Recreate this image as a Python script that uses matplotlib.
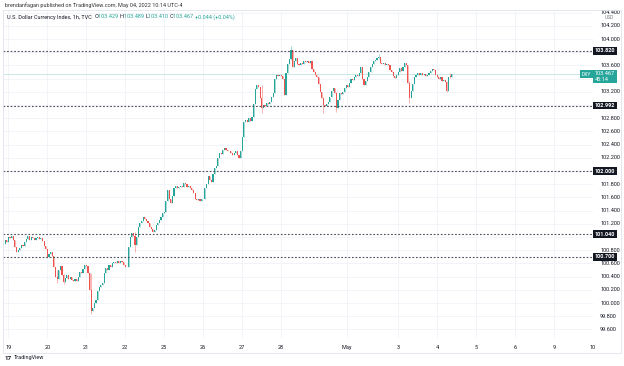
import matplotlib
matplotlib.use("Agg")
import matplotlib.pyplot as plt
from matplotlib.patches import Rectangle
import matplotlib.transforms as mtransforms

plt.rcParams['font.family'] = ['Roboto', 'DejaVu Sans']

# hourly closes, DXY 1h, Apr 18 evening -> May 4 10:00 (bars 0..275)
closes_apr19 = [100.90, 100.95, 100.92, 101.00, 100.98, 101.01, 100.96, 100.85, 100.77, 100.80,
                100.84, 100.88, 100.86, 100.92, 100.97, 101.02, 100.96, 101.00, 100.98, 100.95,
                100.99, 101.00, 100.97, 100.99, 100.94, 100.86, 100.82]
closes_apr20 = [100.70, 100.74, 100.78, 100.72, 100.55, 100.40, 100.36, 100.50, 100.56, 100.42,
                100.32, 100.38, 100.42, 100.36, 100.40, 100.35, 100.33, 100.36, 100.34, 100.40,
                100.47, 100.45, 100.52, 100.58]
closes_apr21 = [100.56, 100.45, 100.20, 99.88, 99.92, 100.00, 100.05, 100.18, 100.24, 100.27,
                100.30, 100.45, 100.53, 100.50, 100.58, 100.55, 100.60, 100.62, 100.60, 100.63,
                100.61, 100.64, 100.62, 100.58]
closes_apr22 = [100.54, 100.55, 100.85, 101.00, 101.06, 101.02, 100.88, 101.00, 101.15, 101.21,
                101.25, 101.30, 101.28, 101.24, 101.22, 101.15, 101.12, 101.08, 101.10, 101.18,
                101.22, 101.26, 101.30, 101.36]
closes_apr25 = [101.38, 101.55, 101.72, 101.58, 101.52, 101.62, 101.74, 101.78, 101.74, 101.76,
                101.78, 101.76, 101.82, 101.80, 101.76, 101.78, 101.75, 101.72, 101.66, 101.58,
                101.56, 101.58, 101.55, 101.57]
closes_apr26 = [101.58, 101.75, 101.80, 101.92, 101.86, 101.84, 101.95, 102.05, 102.08, 102.20,
                102.28, 102.26, 102.32, 102.35, 102.32, 102.30, 102.31, 102.27, 102.24, 102.28,
                102.30, 102.24, 102.20, 102.30]
closes_apr27 = [102.52, 102.75, 102.78, 102.74, 102.80, 102.76, 102.82, 103.02, 103.25, 103.30,
                103.28, 103.10, 102.95, 103.00, 102.98, 103.03, 103.02, 103.05, 103.12, 103.18,
                103.40, 103.45, 103.44, 103.46]
closes_apr28 = [103.44, 103.40, 103.15, 103.48, 103.62, 103.70, 103.83, 103.58, 103.66, 103.71,
                103.62, 103.60, 103.64, 103.62, 103.66, 103.65, 103.66, 103.64, 103.66, 103.55,
                103.50, 103.46, 103.42, 103.32]
closes_apr29 = [103.20, 103.10, 103.00, 102.98, 103.02, 103.05, 103.12, 103.22, 103.26, 103.18,
                102.95, 103.08, 103.18, 103.16, 103.20, 103.26, 103.30, 103.28, 103.34, 103.40,
                103.38, 103.42, 103.45, 103.44]
closes_may02 = [103.48, 103.57, 103.40, 103.30, 103.36, 103.42, 103.50, 103.58, 103.62, 103.66,
                103.68, 103.72, 103.73, 103.64, 103.62, 103.63, 103.61, 103.62, 103.60, 103.53,
                103.50, 103.44, 103.41, 103.46]
closes_may03 = [103.50, 103.56, 103.52, 103.58, 103.64, 103.60, 103.33, 103.10, 103.22, 103.32,
                103.42, 103.45, 103.48, 103.46, 103.48, 103.46, 103.47, 103.44, 103.46, 103.48,
                103.52, 103.55, 103.53, 103.45]
closes_may04 = [103.42, 103.40, 103.42, 103.36, 103.38, 103.35, 103.22, 103.43, 103.429, 103.467]
first_open = 100.88

# visible wick extremes (bar index: high, low)
wick_bars = [33, 37, 54, 81, 159, 177, 197, 205, 231, 250, 273, 275]
wick_high = [100.50, 100.44, 100.46, 101.08, 103.30, 103.90, 103.12, 103.20, 103.77, 103.36, 103.37, 103.489]
wick_low = [100.30, 100.29, 99.83, 100.77, 102.88, 103.68, 102.88, 102.90, 103.70, 103.03, 103.19, 103.410]

levels = [103.820, 102.992, 102.000, 101.040, 100.700]
last_price = 103.467

day_ticks = [3, 27, 51, 75, 99, 123, 147, 171, 211.5, 243, 267, 291, 315, 339, 363]
day_labels = ['19', '20', '21', '22', '25', '26', '27', '28', 'May', '3', '4', '5', '6', '9', '10']
price_ticks = [99.6, 99.8, 100.0, 100.2, 100.4, 100.6, 100.8, 101.0, 101.2, 101.4, 101.6,
               101.8, 102.0, 102.2, 102.4, 102.6, 102.8, 103.0, 103.2, 103.4, 103.6, 103.8,
               104.0, 104.2, 104.4]

closes = (closes_apr19 + closes_apr20 + closes_apr21 + closes_apr22 + closes_apr25 + closes_apr26
          + closes_apr27 + closes_apr28 + closes_apr29 + closes_may02 + closes_may03 + closes_may04)
opens = [first_open] + closes[:-1]
highs = [max(o, c) for o, c in zip(opens, closes)]
lows = [min(o, c) for o, c in zip(opens, closes)]
for b, h, l in zip(wick_bars, wick_high, wick_low):
    highs[b] = max(highs[b], h)
    lows[b] = min(lows[b], l)

UP, DOWN = '#26a69a', '#ef5350'

fig = plt.figure(figsize=(6.24, 3.66), dpi=100)
W, H = 624, 366
ax = fig.add_axes([3 / W, 1 - 338 / H, 590 / W, 328 / H])
ax.set_xlim(-0.3, 362.8)
ax.set_ylim(99.47, 104.44)

# grid
for t in price_ticks:
    ax.axhline(t, color='#f0f3fa', lw=0.6, zorder=0)
for t in day_ticks:
    ax.axvline(t, color='#f0f3fa', lw=0.6, zorder=0)

# candles
xs = list(range(len(closes)))
cols = [UP if c >= o else DOWN for o, c in zip(opens, closes)]
ax.vlines(xs, lows, highs, colors=cols, lw=0.5, alpha=0.6, zorder=2)
bottoms = [min(o, c) for o, c in zip(opens, closes)]
heights = [max(abs(c - o), 0.008) for o, c in zip(opens, closes)]
ax.bar(xs, heights, bottom=bottoms, width=0.7, color=cols, linewidth=0, zorder=3)

# horizontal levels
for lv in levels:
    ax.axhline(lv, color='#50535e', lw=0.8, dashes=(1.6, 1.6), zorder=4)
ax.axhline(last_price, color='#26a69a', lw=0.5, alpha=0.35, zorder=1)

for s in ax.spines.values():
    s.set_visible(False)
ax.set_xticks(day_ticks)
ax.set_xticklabels(day_labels)
ax.set_yticks([])
ax.tick_params(axis='x', length=0, labelsize=4, colors='#131722', pad=5)

trans = mtransforms.blended_transform_factory(ax.transAxes, ax.transData)
# price scale labels, hidden where a level / last price box sits on top
for t in price_ticks:
    if any(abs(t - lv) < 0.099 for lv in levels) or abs(t - (last_price - 0.035)) < 0.12:
        continue
    ax.text(1.012, t, '%.3f' % t, transform=trans, fontsize=4, color='#131722',
            va='center', ha='left', clip_on=False)
for lv in levels:
    ax.text(1.003, lv, '%.3f' % lv, transform=trans, fontsize=4, color='white',
            va='center', ha='left', fontweight='bold', zorder=6,
            bbox=dict(boxstyle='square,pad=0.25', fc='#131722', ec='none'))
ax.text(1.003, last_price - 0.035, '%.3f\n45:14' % last_price, transform=trans, fontsize=4,
        color='white', va='center', ha='left', linespacing=1.1, zorder=6,
        bbox=dict(boxstyle='square,pad=0.3', fc=UP, ec='none'))
ax.text(0.997, last_price, 'DXY', transform=trans, fontsize=3.6, color='white',
        va='center', ha='right', zorder=6,
        bbox=dict(boxstyle='square,pad=0.3', fc=UP, ec='none'))
ax.text(1.02, 104.33, 'USD', transform=trans, fontsize=3.5, color='#787b86',
        va='center', ha='left', clip_on=False)

# frame around chart
fig.patches.append(Rectangle((3 / W, 1 - 353 / H), 618 / W, 343 / H, transform=fig.transFigure,
                             fill=False, ec='#e0e3eb', lw=0.6))

# header / legend line
fig.text(5 / W, 1 - 5 / H, 'brendanfagan published on TradingView.com, May 04, 2022 10:14 UTC-4',
         fontsize=4, color='#333333', va='center', ha='left')

renderer = fig.canvas.get_renderer()
x0 = 7
parts = [('U.S. Dollar Currency Index, 1h, TVC  ', '#131722'), ('O', '#131722'), ('103.429 ', UP),
         ('H', '#131722'), ('103.489 ', UP), ('L', '#131722'), ('103.410 ', UP),
         ('C', '#131722'), ('103.467 ', UP), ('+0.044 (+0.04%)', UP)]
for txt, c in parts:
    t = fig.text(x0 / W, 1 - 17 / H, txt, fontsize=4, color=c, va='center', ha='left')
    x0 += t.get_window_extent(renderer).width

# footer
fig.text(5 / W, 1 - 358 / H, '17', fontsize=4.5, fontweight='bold', color='#131722',
         va='center', ha='left')
fig.text(14 / W, 1 - 358 / H, 'TradingView', fontsize=4, color='#131722', va='center', ha='left')

fig.savefig('out.png', dpi=100)
